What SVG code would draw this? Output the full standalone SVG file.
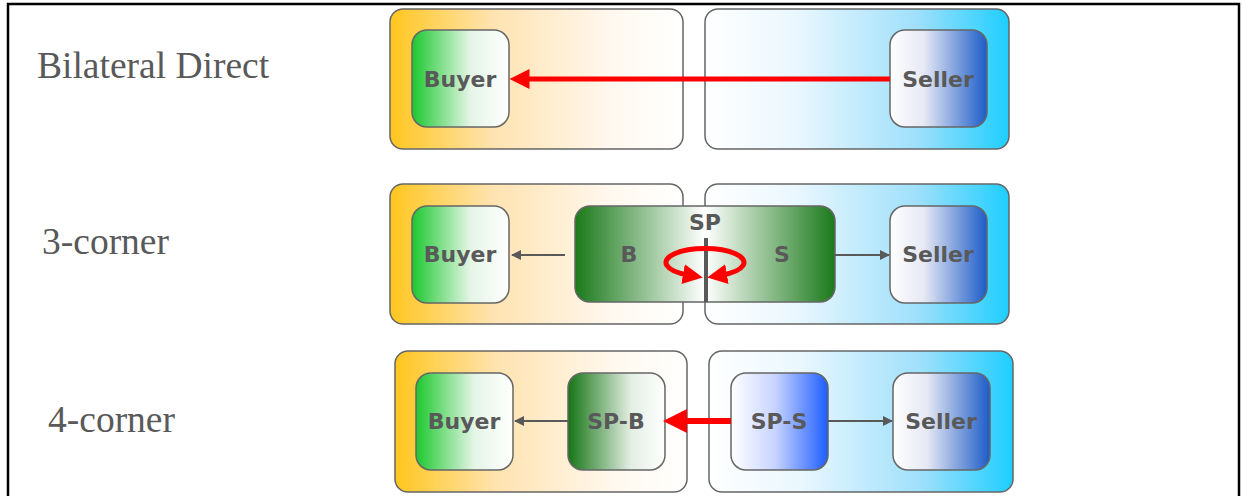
<svg xmlns="http://www.w3.org/2000/svg" width="1242" height="496" viewBox="0 0 1242 496">
<defs>
<linearGradient id="gOrg" x1="0" y1="0" x2="1" y2="0"><stop offset="0" stop-color="#FFC61E"/><stop offset="0.35" stop-color="#FFE3B0"/><stop offset="0.75" stop-color="#FFF8EE"/><stop offset="1" stop-color="#FFFFFF"/></linearGradient>
<linearGradient id="gCyan" x1="0" y1="0" x2="1" y2="0"><stop offset="0" stop-color="#FFFFFF"/><stop offset="0.3" stop-color="#EAF7FE"/><stop offset="0.7" stop-color="#9EE0FB"/><stop offset="1" stop-color="#1ECEFF"/></linearGradient>
<linearGradient id="gBuyer" x1="0" y1="0" x2="1" y2="0"><stop offset="0" stop-color="#1CC82E"/><stop offset="0.6" stop-color="#E4F5E6"/><stop offset="1" stop-color="#FFFFFF"/></linearGradient>
<linearGradient id="gSeller" x1="0" y1="0" x2="1" y2="0"><stop offset="0" stop-color="#FFFFFF"/><stop offset="0.35" stop-color="#E6E8F4"/><stop offset="1" stop-color="#1C5CC8"/></linearGradient>
<linearGradient id="gSP" x1="0" y1="0" x2="1" y2="0"><stop offset="0" stop-color="#1A7A1A"/><stop offset="0.5" stop-color="#FFFFFF"/><stop offset="1" stop-color="#1A7A1A"/></linearGradient>
<linearGradient id="gSPB" x1="0" y1="0" x2="1" y2="0"><stop offset="0" stop-color="#157515"/><stop offset="0.65" stop-color="#E4EEE4"/><stop offset="1" stop-color="#FFFFFF"/></linearGradient>
<linearGradient id="gSPS" x1="0" y1="0" x2="1" y2="0"><stop offset="0" stop-color="#FFFFFF"/><stop offset="0.45" stop-color="#C8D4FF"/><stop offset="1" stop-color="#1E5EFF"/></linearGradient>
<marker id="mRed" markerWidth="4" markerHeight="4" refX="0.5" refY="2" orient="auto-start-reverse" markerUnits="strokeWidth"><path d="M0,0 L4,2 L0,4 z" fill="#FF0000"/></marker>
<marker id="mRed2" markerWidth="4" markerHeight="4" refX="1" refY="2" orient="auto-start-reverse" markerUnits="strokeWidth"><path d="M0,0 L4,2 L0,4 z" fill="#FF0000"/></marker>
<marker id="mGray" markerWidth="10" markerHeight="10" refX="9" refY="5" orient="auto" markerUnits="userSpaceOnUse"><path d="M0,0 L10,5 L0,10 z" fill="#595959"/></marker>
</defs>
<style>
.frame{fill:none;stroke:#000;stroke-width:2.5}
.outer{stroke:#666;stroke-width:1.5}
.inner{stroke:#666;stroke-width:1.5}
.lbl{font-family:"Liberation Serif",serif;font-size:37.5px;fill:#595959}
.nt{font-family:"DejaVu Sans",sans-serif;font-weight:bold;font-size:22px;fill:#595959;text-anchor:middle}
.red{stroke:#FF0000;fill:none}
.gray{stroke:#595959;stroke-width:2;fill:none}
</style>
<path class="frame" d="M8,497 V4 H1239 V497"/>
<text class="lbl" x="37" y="78">Bilateral Direct</text>
<text class="lbl" x="42" y="254">3-corner</text>
<text class="lbl" x="48" y="432">4-corner</text>

<g id="row1">
<rect id="r1-buyer-domain" class="outer" x="390" y="9" width="293" height="140" rx="13" fill="url(#gOrg)"/>
<rect id="r1-seller-domain" class="outer" x="705" y="9" width="304" height="140" rx="13" fill="url(#gCyan)"/>
<g id="r1-buyer"><rect class="inner" x="412" y="30" width="97" height="97" rx="15" fill="url(#gBuyer)"/><text class="nt" x="460" y="87">Buyer</text></g>
<g id="r1-seller"><rect class="inner" x="890" y="30" width="97" height="97" rx="15" fill="url(#gSeller)"/><text class="nt" x="938" y="87">Seller</text></g>
</g>

<g id="row2">
<rect id="r2-buyer-domain" class="outer" x="390" y="184" width="293" height="140" rx="13" fill="url(#gOrg)"/>
<rect id="r2-seller-domain" class="outer" x="705" y="184" width="304" height="140" rx="13" fill="url(#gCyan)"/>
<g id="r2-buyer"><rect class="inner" x="412" y="206" width="97" height="97" rx="15" fill="url(#gBuyer)"/><text class="nt" x="460" y="262">Buyer</text></g>
<g id="r2-seller"><rect class="inner" x="890" y="206" width="97" height="97" rx="15" fill="url(#gSeller)"/><text class="nt" x="938" y="262">Seller</text></g>
<g id="r2-sp"><rect class="inner" x="575" y="206" width="260" height="96" rx="15" fill="url(#gSP)"/>
<text class="nt" x="705" y="230">SP</text><text class="nt" x="629" y="262">B</text><text class="nt" x="782" y="262">S</text>
<line x1="706" y1="238" x2="706" y2="302" stroke="#595959" stroke-width="4"/></g>
</g>

<g id="row3">
<rect id="r3-buyer-domain" class="outer" x="395" y="351" width="292" height="141" rx="13" fill="url(#gOrg)"/>
<rect id="r3-seller-domain" class="outer" x="709" y="351" width="304" height="141" rx="13" fill="url(#gCyan)"/>
<g id="r3-buyer"><rect class="inner" x="416" y="373" width="97" height="97" rx="15" fill="url(#gBuyer)"/><text class="nt" x="464" y="429">Buyer</text></g>
<g id="r3-spb"><rect class="inner" x="568" y="373" width="97" height="97" rx="15" fill="url(#gSPB)"/><text class="nt" x="616" y="429">SP-B</text></g>
<g id="r3-sps"><rect class="inner" x="731" y="373" width="97" height="97" rx="15" fill="url(#gSPS)"/><text class="nt" x="779" y="429">SP-S</text></g>
<g id="r3-seller"><rect class="inner" x="893" y="373" width="97" height="97" rx="15" fill="url(#gSeller)"/><text class="nt" x="941" y="429">Seller</text></g>
</g>

<g id="connectors">
<line class="red" x1="890" y1="79" x2="527" y2="79" stroke-width="5" marker-end="url(#mRed)"/>
<line class="gray" x1="565" y1="255" x2="512" y2="255" marker-end="url(#mGray)"/>
<line class="gray" x1="835" y1="255" x2="889" y2="255" marker-end="url(#mGray)"/>
<path class="red" d="M688,275 A39,14 0 1 1 722,275" stroke-width="5" marker-start="url(#mRed2)" marker-end="url(#mRed2)"/>
<line class="gray" x1="568" y1="421" x2="515" y2="421" marker-end="url(#mGray)"/>
<line class="gray" x1="828" y1="421" x2="892" y2="421" marker-end="url(#mGray)"/>
<line class="red" x1="731" y1="421" x2="684" y2="421" stroke-width="6" marker-end="url(#mRed)"/>
</g>
</svg>
